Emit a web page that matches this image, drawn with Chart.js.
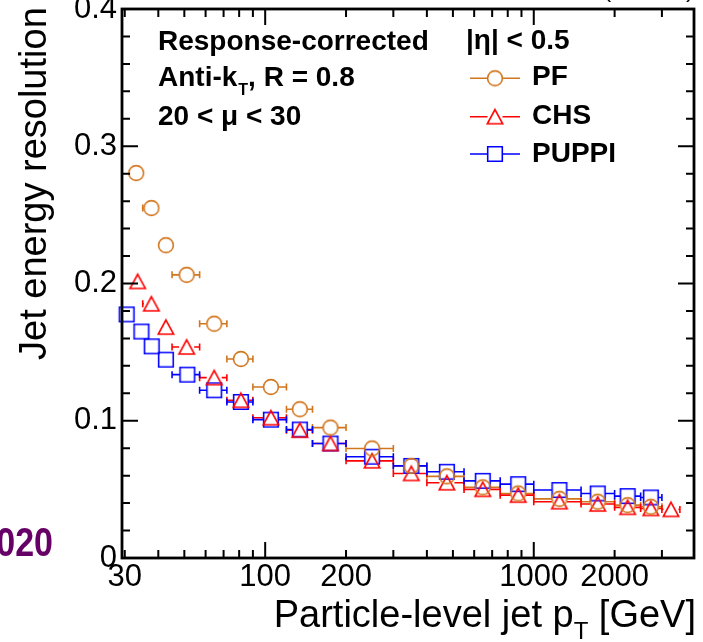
<!DOCTYPE html>
<html>
<head>
<meta charset="utf-8">
<script src="https://cdn.jsdelivr.net/npm/chart.js@4.4.1/dist/chart.umd.min.js"></script>
<style>
html,body{margin:0;padding:0;background:#fff;}
#wrap{position:relative;width:703px;height:642px;overflow:hidden;}
</style>
</head>
<body>
<div id="wrap"><canvas id="c" width="703" height="642"></canvas></div>
<script>
// ---------------- data ----------------
const seriesNames = ["PF", "CHS", "PUPPI"];

const ptPF  = [33.1, 37.7, 42.7, 51.0, 64.6, 81.2, 105, 134.6, 175, 250, 350, 475, 646, 875, 1246, 1730, 2236, 2729];
const resPF = [0.2805, 0.2550, 0.2279, 0.2063, 0.1707, 0.1450, 0.1246, 0.1084, 0.0950, 0.0798, 0.0671, 0.0595, 0.0515, 0.0470, 0.0431, 0.0410, 0.0385, 0.0373];
const loPF  = [31.5, 35, 40, 45, 57, 72, 90, 120, 150, 200, 300, 400, 550, 750, 1000, 1500, 2000, 2500];
const hiPF  = [35, 40, 45, 57, 72, 90, 120, 150, 200, 300, 400, 550, 750, 1000, 1500, 2000, 2500, 3000];

const ptCHS  = [33.5, 37.7, 42.7, 51.0, 64.6, 81.2, 105, 134.6, 175, 250, 350, 475, 646, 875, 1246, 1730, 2236, 2729, 3242];
const resCHS = [0.2015, 0.1852, 0.1682, 0.1537, 0.1314, 0.1149, 0.1022, 0.0931, 0.0834, 0.0708, 0.0616, 0.0548, 0.0500, 0.0458, 0.0410, 0.0393, 0.0369, 0.0361, 0.0354];
const loCHS  = [31.5, 35, 40, 45, 57, 72, 90, 120, 150, 200, 300, 400, 550, 750, 1000, 1500, 2000, 2500, 3000];
const hiCHS  = [35, 40, 45, 57, 72, 90, 120, 150, 200, 300, 400, 550, 750, 1000, 1500, 2000, 2500, 3000, 3500];

const ptPUPPI  = [30.5, 34.6, 37.8, 42.7, 51.3, 64.6, 81.2, 105, 134.6, 175, 250, 350, 475, 646, 875, 1246, 1730, 2236, 2729];
const resPUPPI = [0.1775, 0.1650, 0.1542, 0.1445, 0.1336, 0.1222, 0.1137, 0.1008, 0.0936, 0.0834, 0.0738, 0.0671, 0.0628, 0.0562, 0.0538, 0.0495, 0.0470, 0.0451, 0.0441];
const loPUPPI  = [29, 32.5, 36, 40, 45, 57, 72, 90, 120, 150, 200, 300, 400, 550, 750, 1000, 1500, 2000, 2500];
const hiPUPPI  = [32.5, 36, 40, 45, 57, 72, 90, 120, 150, 200, 300, 400, 550, 750, 1000, 1500, 2000, 2500, 3000];

const xTickValues = [30, 100, 200, 1000, 2000];
const xTickLabels = ["30", "100", "200", "1000", "2000"];
const yTickValues = [0, 0.1, 0.2, 0.3, 0.4];
const yTickLabels = ["0", "0.1", "0.2", "0.3", "0.4"];

// ---------------- styling ----------------
const FONT = "'Liberation Sans', Arial, Helvetica, sans-serif";
const colPF = "#D2761E", colCHS = "#FF0000", colPUPPI = "#0000FF";

function makeMarker(kind, color) {
  const s = 22, m = s / 2;
  const c = document.createElement('canvas');
  c.width = s; c.height = s;
  const g = c.getContext('2d');
  g.strokeStyle = color; g.lineWidth = 1.6;
  g.beginPath();
  if (kind === 'circle') g.arc(m, m, 7.4, 0, Math.PI * 2);
  else if (kind === 'square') g.rect(m - 7.3, m - 7.3, 14.6, 14.6);
  else { g.moveTo(m, m - 7.2); g.lineTo(m + 7.7, m + 7.0); g.lineTo(m - 7.7, m + 7.0); g.closePath(); }
  g.stroke();
  return c;
}
const mkPF = makeMarker('circle', colPF);
const mkCHS = makeMarker('triangle', colCHS);
const mkPUPPI = makeMarker('square', colPUPPI);

const series = [
  {name: seriesNames[0], pt: ptPF, res: resPF, lo: loPF, hi: hiPF, color: colPF, marker: mkPF, r: 7.5},
  {name: seriesNames[1], pt: ptCHS, res: resCHS, lo: loCHS, hi: hiCHS, color: colCHS, marker: mkCHS, r: 7.5},
  {name: seriesNames[2], pt: ptPUPPI, res: resPUPPI, lo: loPUPPI, hi: hiPUPPI, color: colPUPPI, marker: mkPUPPI, r: 7.3}
];

// ---------------- plugins ----------------
const errorBars = {
  id: 'errorBars',
  beforeDatasetsDraw(chart) {
    const {ctx, scales: {x, y}} = chart;
    ctx.save();
    ctx.lineWidth = 1.6;
    series.forEach(s => {
      ctx.strokeStyle = s.color;
      ctx.beginPath();
      s.pt.forEach((v, i) => {
        const px = x.getPixelForValue(v), py = y.getPixelForValue(s.res[i]);
        const xl = x.getPixelForValue(s.lo[i]), xh = x.getPixelForValue(s.hi[i]);
        if (xl < px - s.r - 0.5) {
          ctx.moveTo(xl, py); ctx.lineTo(px - s.r, py);
          ctx.moveTo(xl, py - 3.5); ctx.lineTo(xl, py + 3.5);
        }
        if (xh > px + s.r + 0.5) {
          ctx.moveTo(px + s.r, py); ctx.lineTo(xh, py);
          ctx.moveTo(xh, py - 3.5); ctx.lineTo(xh, py + 3.5);
        }
      });
      ctx.stroke();
    });
    ctx.restore();
  }
};

const frameTicks = {
  id: 'frameTicks',
  afterDraw(chart) {
    const {ctx, chartArea: a, scales: {x, y}} = chart;
    ctx.save();
    ctx.strokeStyle = '#000';
    ctx.lineWidth = 2;
    ctx.beginPath();
    for (let k = 0; k <= 20; k++) {
      const py = y.getPixelForValue(k * 0.02);
      const L = (k % 5 === 0) ? 16 : 8;
      ctx.moveTo(a.left, py); ctx.lineTo(a.left + L, py);
      ctx.moveTo(a.right, py); ctx.lineTo(a.right - L, py);
    }
    for (let dec = 10; dec <= 1000; dec *= 10) {
      for (let m = 1; m <= 9; m++) {
        const v = dec * m;
        if (v < x.min || v > x.max) continue;
        const px = x.getPixelForValue(v);
        const L = (m === 1) ? 16 : 8;
        ctx.moveTo(px, a.bottom); ctx.lineTo(px, a.bottom - L);
        ctx.moveTo(px, a.top); ctx.lineTo(px, a.top + L);
      }
    }
    ctx.stroke();
    ctx.lineWidth = 2.8;
    ctx.strokeRect(a.left, a.top, a.right - a.left, a.bottom - a.top);
    ctx.restore();
  }
};

const texts = {
  id: 'texts',
  afterDraw(chart) {
    const {ctx} = chart;
    ctx.save();
    ctx.fillStyle = '#000';
    ctx.textBaseline = 'alphabetic';
    ctx.textAlign = 'left';

    // y axis title
    ctx.save();
    ctx.translate(46, 360);
    ctx.rotate(-Math.PI / 2);
    ctx.font = "38px " + FONT;
    ctx.fillText("Jet energy resolution", 0, 0);
    ctx.restore();

    // x axis title with subscript T
    const part1 = "Particle-level jet p", sub = "T", part2 = " [GeV]";
    ctx.font = "38px " + FONT;
    const w1 = ctx.measureText(part1).width, w3 = ctx.measureText(part2).width;
    ctx.font = "24px " + FONT;
    const w2 = ctx.measureText(sub).width;
    let xs = 696 - (w1 + w2 + w3);
    ctx.font = "38px " + FONT;
    ctx.fillText(part1, xs, 627);
    ctx.font = "24px " + FONT;
    ctx.fillText(sub, xs + w1, 639);
    ctx.font = "38px " + FONT;
    ctx.fillText(part2, xs + w1 + w2, 627);

    // annotations
    ctx.font = "bold 28px " + FONT;
    ctx.fillText("Response-corrected", 158, 49.5);
    ctx.fillText("|\u03B7| < 0.5", 466, 48.5);
    const a1 = "Anti-k";
    ctx.fillText(a1, 158, 86);
    const wa = ctx.measureText(a1).width;
    ctx.font = "bold 16px " + FONT;
    ctx.fillText("T", 158 + wa + 1, 95);
    const wt = ctx.measureText("T").width;
    ctx.font = "bold 28px " + FONT;
    ctx.fillText(", R = 0.8", 158 + wa + wt + 1, 86);
    ctx.fillText("20 < \u03BC < 30", 158, 125);

    // legend
    const legY = [78.3, 116.7, 154];
    const legBase = [85, 124, 162];
    series.forEach((s, i) => {
      ctx.strokeStyle = s.color;
      ctx.lineWidth = 1.6;
      ctx.beginPath();
      ctx.moveTo(470, legY[i]); ctx.lineTo(495 - s.r, legY[i]);
      ctx.moveTo(495 + s.r, legY[i]); ctx.lineTo(520, legY[i]);
      ctx.stroke();
      ctx.drawImage(s.marker, 495 - s.marker.width / 2, legY[i] - s.marker.height / 2);
      ctx.fillStyle = '#000';
      ctx.font = "bold 28px " + FONT;
      ctx.fillText(s.name, 532, legBase[i]);
    });

    // cropped fragments of surrounding figure text
    ctx.fillStyle = '#660066';
    ctx.save();
    ctx.scale(0.85, 1);
    ctx.font = "bold 40px " + FONT;
    ctx.textAlign = 'right';
    ctx.fillText("2020", 53 / 0.85, 556);
    ctx.restore();
    ctx.fillStyle = '#000';
    ctx.font = "24px " + FONT;
    ctx.textAlign = 'right';
    ctx.fillText("(13 TeV)", 694, -3);
    ctx.restore();
  }
};

// ---------------- chart ----------------
const datasets = series.map(s => ({
  label: s.name,
  data: s.pt.map((v, i) => ({x: v, y: s.res[i]})),
  pointStyle: s.marker,
  pointRadius: 8,
  showLine: false,
  borderColor: s.color,
  backgroundColor: s.color,
  clip: false
}));

new Chart(document.getElementById('c'), {
  type: 'scatter',
  data: {datasets},
  options: {
    responsive: false,
    animation: false,
    devicePixelRatio: 1,
    layout: {padding: {top: 8, right: 8, left: 0, bottom: 0}},
    plugins: {legend: {display: false}, tooltip: {enabled: false}, title: {display: false}},
    scales: {
      x: {
        type: 'logarithmic',
        min: 29.3, max: 3950,
        grid: {display: false, drawTicks: false},
        border: {display: false},
        ticks: {
          color: '#000', font: {family: FONT, size: 31}, padding: 1,
          autoSkip: false, maxRotation: 0, minRotation: 0,
          callback: (v) => { const i = xTickValues.indexOf(v); return i >= 0 ? xTickLabels[i] : ''; }
        },
        afterBuildTicks: (s) => { s.ticks = xTickValues.map(v => ({value: v})); },
        afterFit: (s) => { s.height = 84; s.paddingLeft = 0; s.paddingRight = 0; }
      },
      y: {
        type: 'linear',
        min: 0, max: 0.4,
        grid: {display: false, drawTicks: false},
        border: {display: false},
        ticks: {
          color: '#000', font: {family: FONT, size: 31}, padding: 5,
          autoSkip: false,
          callback: (v) => { const i = yTickValues.findIndex(t => Math.abs(t - v) < 1e-9); return i >= 0 ? yTickLabels[i] : ''; }
        },
        afterBuildTicks: (s) => { s.ticks = yTickValues.map(v => ({value: v})); },
        afterFit: (s) => { s.width = 122; s.paddingTop = 0; s.paddingBottom = 0; }
      }
    }
  },
  plugins: [errorBars, frameTicks, texts]
});
</script>
</body>
</html>
